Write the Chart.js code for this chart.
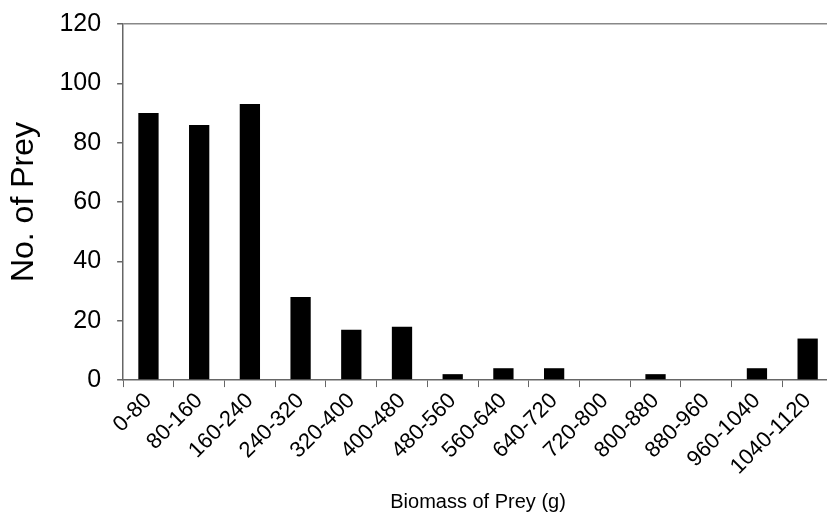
<!DOCTYPE html>
<html>
<head>
<meta charset="utf-8">
<script src="https://cdn.jsdelivr.net/npm/chart.js@4.4.1/dist/chart.umd.min.js"></script>
<style>
  html, body { margin: 0; padding: 0; background: #fff; overflow: hidden; }
  #wrap { width: 850px; height: 529px; position: relative; margin-top: -7px; }
</style>
</head>
<body>
<div id="wrap"><canvas id="preyChart" width="850" height="529"></canvas></div>
<script>
// categorías de biomasa (g) y número de presas
const biomassBins = ['0-80', '80-160', '160-240', '240-320', '320-400', '400-480', '480-560',
    '560-640', '640-720', '720-800', '800-880', '880-960', '960-1040', '1040-1120'];
const preyCounts = [90, 86, 93, 28, 17, 18, 2, 4, 4, 0, 2, 0, 4, 14];
const yTicks = [0, 20, 40, 60, 80, 100, 120];

const axisColor = '#666';
const fontFamily = '"Liberation Sans", Arial, sans-serif';

const ctx = document.getElementById('preyChart').getContext('2d');
new Chart(ctx, {
    type: 'bar',
    data: {
        labels: biomassBins,
        datasets: [{
            data: preyCounts,
            backgroundColor: '#000',
            barPercentage: 0.4,
            categoryPercentage: 1.0
        }]
    },
    options: {
        responsive: false,
        animation: false,
        layout: { padding: { top: 0, right: 17, left: 0, bottom: 0 } },
        plugins: { legend: { display: false }, tooltip: { enabled: false } },
        scales: {
            x: {
                offset: true,
                grid: {
                    offset: true,
                    drawOnChartArea: false,
                    tickLength: 7,
                    tickColor: axisColor
                },
                border: { color: axisColor, width: 1.5 },
                ticks: {
                    color: '#000',
                    font: { family: fontFamily, size: 22 },
                    minRotation: 45,
                    maxRotation: 45,
                    padding: 1
                },
                title: {
                    display: true,
                    text: 'Biomass of Prey (g)',
                    color: '#000',
                    font: { family: fontFamily, size: 20 },
                    padding: { top: 9, bottom: 8 }
                }
            },
            y: {
                min: 0,
                max: 120,
                afterBuildTicks: axis => { axis.ticks = yTicks.map(v => ({ value: v })); },
                grid: {
                    color: c => (c.tick && c.tick.value === 120 ? '#888' : 'transparent'),
                    lineWidth: 1.5,
                    tickLength: 6,
                    tickColor: axisColor
                },
                border: { color: axisColor, width: 1.5 },
                ticks: {
                    color: '#000',
                    font: { family: fontFamily, size: 25 },
                    padding: 16
                },
                title: {
                    display: true,
                    text: 'No. of Prey',
                    color: '#000',
                    font: { family: fontFamily, size: 32 },
                    padding: { top: 5, bottom: 0 }
                }
            }
        }
    }
});
</script>
</body>
</html>
